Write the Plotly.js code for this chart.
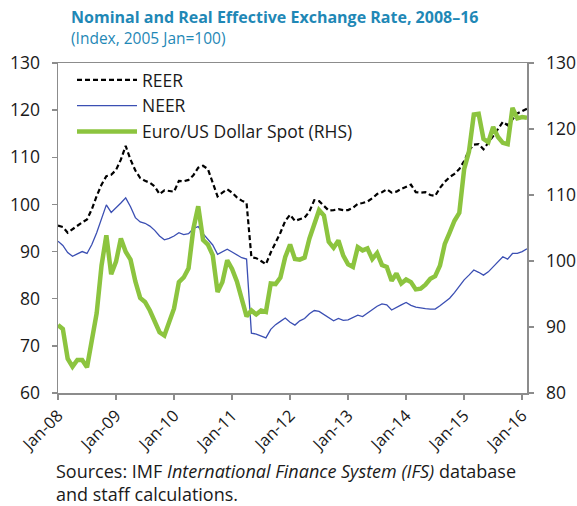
<!DOCTYPE html>
<html><head><meta charset="utf-8">
<script src="https://cdn.plot.ly/plotly-3.0.1.min.js"></script>
<style>html,body{margin:0;padding:0;background:#fff}#chart{width:577px;height:506px}</style>
</head><body><div id="chart"></div>
<script>
// Categories: monthly, Jan-08 .. Feb-16
const yearSuffixes = ['08','09','10','11','12','13','14','15','16'];
const monthNames = ['Jan','Feb','Mar','Apr','May','Jun','Jul','Aug','Sep','Oct','Nov','Dec'];
const lastMonthCount = 2; // data ends Feb-16
const categories = [];
yearSuffixes.forEach((y, yi) => {
  const n = (yi === yearSuffixes.length - 1) ? lastMonthCount : 12;
  for (let m = 0; m < n; m++) categories.push(monthNames[m] + '-' + y);
});
const tickLabels = ['Jan-08','Jan-09','Jan-10','Jan-11','Jan-12','Jan-13','Jan-14','Jan-15','Jan-16'];

const reer = [95.5,95.2,94.0,94.8,95.6,96.2,96.8,99.0,101.8,104.2,106.0,106.3,
  107.3,109.5,112.4,109.5,107.2,105.6,105.0,104.6,103.8,102.2,103.0,102.9,
  102.7,105.0,104.9,105.2,106.2,107.8,108.2,107.5,104.5,101.7,102.5,103.2,
  102.5,101.5,100.8,100.3,88.8,88.6,88.0,87.3,89.8,91.8,94.0,96.5,
  97.8,96.5,96.8,97.2,98.5,100.9,100.7,99.8,98.7,98.8,99.0,98.8,
  98.8,99.3,100.1,100.3,100.6,101.3,102.2,102.6,103.2,102.5,102.7,103.3,
  103.8,104.2,102.6,102.5,102.6,102.0,101.8,103.5,104.8,105.8,106.5,107.5,
  109.2,111.5,112.7,112.8,111.7,113.0,114.5,116.0,117.5,116.8,118.0,119.3,
  119.8,120.3];
const neer = [92.2,91.3,89.8,89.0,89.5,90.0,89.6,91.5,94.0,97.0,99.9,98.3,
  99.2,100.3,101.4,99.5,97.2,96.3,96.0,95.4,94.5,93.3,92.5,92.8,
  93.3,94.0,93.6,93.8,94.9,95.3,93.8,92.5,91.4,89.4,90.0,90.5,
  89.9,89.3,88.7,88.4,72.7,72.5,72.1,71.7,73.5,74.5,75.2,75.9,
  75.0,74.4,75.3,75.8,76.8,77.5,77.3,76.6,76.0,75.3,75.8,75.4,
  75.5,76.0,76.5,76.2,77.0,77.7,78.4,78.9,78.7,77.6,78.2,78.7,
  79.2,78.6,78.2,78.0,77.9,77.8,77.8,78.5,79.3,80.1,81.3,82.6,
  84.0,85.0,86.1,85.6,85.0,85.7,86.8,87.8,88.9,88.4,89.6,89.6,
  90.0,90.6];
const euroUsd = [90.3,89.7,85.2,84.0,85.0,85.0,83.9,88.4,92.1,99.3,103.9,98.0,
  99.9,103.4,101.4,100.2,96.9,94.4,93.8,92.5,90.7,89.2,88.7,90.8,
  92.8,96.8,97.5,98.9,104.9,108.3,103.2,102.5,100.9,95.3,96.8,100.1,
  98.8,96.9,94.5,91.6,92.5,91.9,92.5,92.3,96.6,96.5,97.5,100.6,
  102.5,100.3,100.2,100.5,103.4,105.4,107.7,106.9,102.9,102.0,103.1,100.8,
  99.5,99.1,102.1,101.6,101.9,100.3,101.2,99.4,99.1,97.0,98.1,96.6,
  97.2,96.8,95.7,95.8,96.4,97.3,97.7,99.3,102.6,104.3,106.1,107.3,
  113.9,116.6,122.2,122.3,118.5,118.0,120.3,118.8,117.9,117.7,123.2,121.6,
  121.8,121.7];

const W = 577, H = 506;
const plotL = 58, plotR = 527, plotT = 63, plotB = 393;
const px2x = px => (px - plotL) / (plotR - plotL);
const py2y = py => (plotB - py) / (plotB - plotT);

const axisColor = '#8c8c8c';
const titleColor = '#1f88b6';
const fontFam = '"Open Sans", "Noto Sans", sans-serif';

const traces = [
  {x: categories, y: reer, name: 'REER', type: 'scatter', mode: 'lines',
   line: {color: '#000000', width: 2.2, dash: '5px,3px'}},
  {x: categories, y: neer, name: 'NEER', type: 'scatter', mode: 'lines',
   line: {color: '#3b4fb3', width: 1.3}},
  {x: categories, y: euroUsd, name: 'Euro/US Dollar Spot (RHS)', type: 'scatter', mode: 'lines',
   yaxis: 'y2', line: {color: '#8cc43f', width: 4.5}}
];

const axisCommon = {
  showgrid: false, zeroline: false, showline: true, linecolor: axisColor, linewidth: 1.5,
  ticks: 'outside', ticklen: 5, tickcolor: axisColor, tickwidth: 1.5,
  tickfont: {size: 17.5, color: '#1a1a1a', family: fontFam}
};

const layout = {
  width: W, height: H,
  margin: {l: plotL, r: W - plotR, t: plotT, b: H - plotB, pad: 0},
  paper_bgcolor: '#ffffff', plot_bgcolor: '#ffffff',
  font: {family: fontFam, size: 15, color: '#1a1a1a'},
  showlegend: true,
  legend: {x: px2x(72), y: py2y(62), xanchor: 'left', yanchor: 'top',
           bgcolor: 'rgba(0,0,0,0)', font: {size: 17.5, color: '#1a1a1a'},
           itemwidth: 60, tracegroupgap: 0},
  xaxis: Object.assign({}, axisCommon, {
    type: 'category', range: [0, categories.length - 1],
    tickmode: 'array', tickvals: tickLabels, ticktext: tickLabels,
    tickangle: -45, mirror: true,
    tickfont: {size: 16.5, color: '#1a1a1a', family: fontFam}
  }),
  yaxis: Object.assign({}, axisCommon, {range: [60, 130], dtick: 10, tick0: 60,
    ticklabelstandoff: 8}),
  yaxis2: Object.assign({}, axisCommon, {range: [80, 130], dtick: 10, tick0: 80,
    overlaying: 'y', side: 'right', ticklabelstandoff: 9}),
  annotations: [
    {xref: 'paper', yref: 'paper', x: px2x(69), y: py2y(17), xanchor: 'left', yanchor: 'middle',
     showarrow: false, text: '<b>Nominal and Real Effective Exchange Rate, 2008–16</b>',
     font: {size: 16, color: titleColor, family: fontFam}},
    {xref: 'paper', yref: 'paper', x: px2x(69), y: py2y(38), xanchor: 'left', yanchor: 'middle',
     showarrow: false, text: '(Index, 2005 Jan=100)',
     font: {size: 15.5, color: titleColor, family: fontFam}},
    {xref: 'paper', yref: 'paper', x: px2x(55), y: py2y(482.5), xanchor: 'left', yanchor: 'middle',
     showarrow: false, align: 'left', borderpad: 0,
     text: 'Sources: IMF <i>International Finance System (IFS)</i> database<br>and staff calculations.',
     font: {size: 18, color: '#1a1a1a', family: fontFam}}
  ]
};

Plotly.newPlot('chart', traces, layout, {displayModeBar: false, staticPlot: true});
</script>
</body></html>
